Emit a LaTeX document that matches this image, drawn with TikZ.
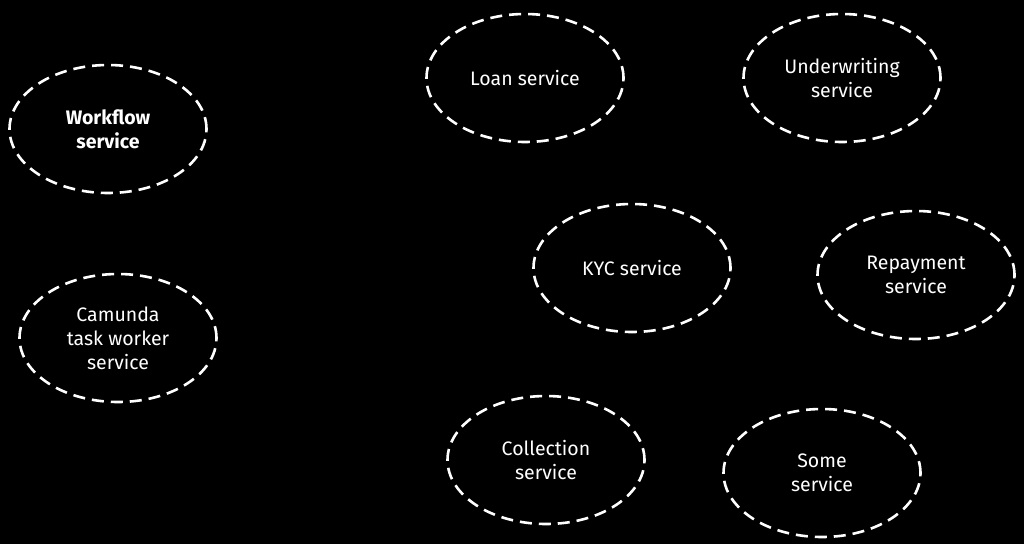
\documentclass[tikz,border=0pt]{standalone}
\usepackage{fontspec}
\setmainfont{Fira Sans}
\usepackage{tikz}
\usetikzlibrary{shapes.geometric}

\begin{document}
\begin{tikzpicture}[
      x=1pt,y=-1pt,
      myellipse/.style={
         ellipse,
         draw=white,
         line width=2.6pt,
         dash pattern=on 12pt off 7pt,
         text=white,
         inner sep=0pt,
         minimum width=197pt,
         minimum height=128pt,
         align=center,
         font=\fontsize{19.5}{24}\selectfont}
      ]
      \fill[black] (0,0) rectangle (1024,544);
      \useasboundingbox (0,0) rectangle (1024,544);

      \node[myellipse] (workflow) at (108,129) {\bfseries Workflow\\\bfseries service};
      \node[myellipse] (camunda) at (118,338) {Camunda\\task worker\\service};
      \node[myellipse] (loan) at (525,78) {Loan service};
      \node[myellipse] (underwriting) at (842,78) {Underwriting\\service};
      \node[myellipse] (kyc) at (632,268) {KYC service};
      \node[myellipse] (repayment) at (916,275) {Repayment\\service};
      \node[myellipse] (collection) at (546,460) {Collection\\service};
      \node[myellipse] (some) at (822,473) {Some\\service};
    \end{tikzpicture}
\end{document}
